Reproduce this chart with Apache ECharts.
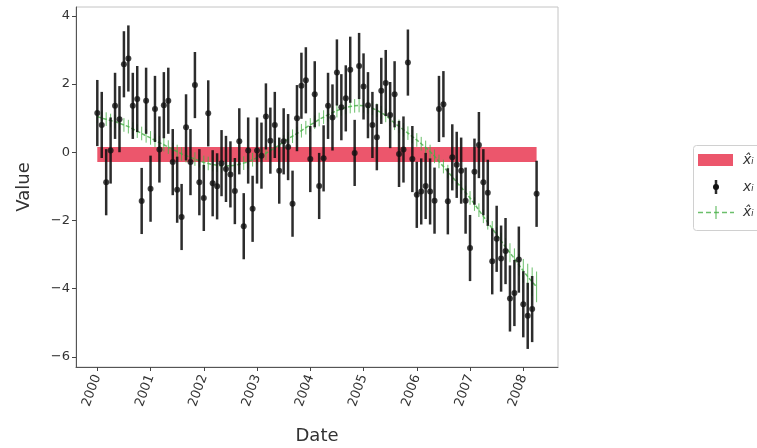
<!DOCTYPE html>
<html>
<head>
<meta charset="utf-8">
<script src="https://cdn.jsdelivr.net/npm/echarts@6/dist/echarts.min.js"></script>
<style>html,body{margin:0;padding:0;background:#fff;overflow:hidden}#c{width:757px;height:448px}</style>
</head>
<body>
<div id="c"></div>
<script>
// ---- data ----
const startYear = 2000;
const yearTicks = [2000, 2001, 2002, 2003, 2004, 2005, 2006, 2007, 2008];
const valueTicks = [-6, -4, -2, 0, 2, 4];
// observations x_i (monthly, 2000-01 .. 2008-04)
const observed = [
  1.15, 0.8, -0.88, 0.05, 1.36, 0.97, 2.58, 2.75, 1.36, 1.56,
  -1.43, 1.51, -1.07, 1.27, 0.08, 1.38, 1.51, -0.29, -1.1, -1.9,
  0.73, -0.29, 1.97, -0.88, -1.34, 1.14, -0.91, -1.0, -0.32, -0.49,
  -0.65, -1.14, 0.32, -2.17, 0.05, -1.66, 0.05, -0.1, 1.05, 0.34,
  0.8, -0.54, 0.32, 0.15, -1.51, 1.0, 1.95, 2.11, -0.2, 1.7,
  -0.99, -0.18, 1.36, 1.02, 2.34, 1.32, 1.58, 2.42, -0.02, 2.53,
  1.93, 1.38, 0.8, 0.44, 1.8, 2.03, 1.09, 1.7, -0.05, 0.08,
  2.63, -0.2, -1.25, -1.15, -0.99, -1.15, -1.42, 1.27, 1.41, -1.44,
  -0.15, -0.37, -0.54, -1.42, -2.81, -0.57, 0.21, -0.88, -1.19, -3.2,
  -2.54, -3.12, -2.9, -4.29, -4.13, -3.15, -4.46, -4.8, -4.6, -1.22
];
const observedErr = 0.97;
// estimates x̂_i
const estimate = [
  1.05, 1.0, 0.97, 0.93, 0.9, 0.85, 0.8, 0.75, 0.68, 0.62,
  0.55, 0.48, 0.42, 0.35, 0.28, 0.22, 0.15, 0.08, 0.02, -0.05,
  -0.1, -0.15, -0.2, -0.25, -0.3, -0.33, -0.36, -0.38, -0.4, -0.4,
  -0.4, -0.38, -0.35, -0.32, -0.28, -0.22, -0.16, -0.1, -0.03, 0.05,
  0.13, 0.21, 0.3, 0.39, 0.47, 0.55, 0.63, 0.72, 0.8, 0.88,
  0.96, 1.03, 1.1, 1.16, 1.22, 1.27, 1.31, 1.34, 1.36, 1.37,
  1.36, 1.33, 1.29, 1.23, 1.16, 1.08, 0.97, 0.85, 0.76, 0.66,
  0.56, 0.46, 0.36, 0.25, 0.14, 0.02, -0.12, -0.27, -0.42, -0.57,
  -0.72, -0.88, -1.03, -1.18, -1.34, -1.52, -1.7, -1.88, -2.06, -2.24,
  -2.42, -2.6, -2.78, -2.95, -3.12, -3.3, -3.48, -3.65, -3.8, -3.95
];
const estimateErr = [
  0.2, 0.2, 0.2, 0.2, 0.2, 0.2, 0.2, 0.2, 0.2, 0.2,
  0.2, 0.2, 0.2, 0.2, 0.2, 0.2, 0.2, 0.2, 0.2, 0.2,
  0.2, 0.2, 0.2, 0.2, 0.2, 0.2, 0.2, 0.2, 0.2, 0.2,
  0.2, 0.2, 0.2, 0.2, 0.2, 0.2, 0.2, 0.2, 0.2, 0.2,
  0.2, 0.2, 0.2, 0.2, 0.2, 0.2, 0.2, 0.2, 0.2, 0.2,
  0.2, 0.2, 0.2, 0.2, 0.2, 0.2, 0.2, 0.2, 0.2, 0.2,
  0.2, 0.2, 0.2, 0.2, 0.2, 0.2, 0.2, 0.2, 0.2, 0.2,
  0.2, 0.2, 0.2, 0.2, 0.2, 0.2, 0.2, 0.2, 0.2, 0.2,
  0.2, 0.2, 0.2, 0.2, 0.2, 0.2, 0.2, 0.2, 0.21, 0.22,
  0.23, 0.24, 0.26, 0.28, 0.3, 0.32, 0.35, 0.38, 0.42, 0.45
];
// mean band x̄ (lower / upper)
const bandLow = [-0.29];
const bandHigh = [0.15];
const legendLabels = ['x\u0302\u1D62', 'x\u1D62', 'x\u0302\u1D62'];

// ---- build ----
const dates = observed.map((_, i) => startYear + i / 12);
const obsPts = observed.map((v, i) => [dates[i], v]);
const obsBars = observed.map((v, i) => [dates[i], v - observedErr, v + observedErr]);
const estPts = estimate.map((v, i) => [dates[i], v]);
const estBars = estimate.map((v, i) => [dates[i], v - estimateErr[i], v + estimateErr[i]]);
const bandData = [[dates[0], dates[dates.length - 1], bandLow[0], bandHigh[0]]];

const RED = '#ec566c';
const GREEN = 'rgba(70,175,70,0.8)';
const BLACK = 'rgba(15,15,15,0.88)';

function errRender(color, width) {
  return function (params, api) {
    const p1 = api.coord([api.value(0), api.value(2)]);
    const p2 = api.coord([api.value(0), api.value(1)]);
    return {type: 'line', shape: {x1: p1[0], y1: p1[1], x2: p2[0], y2: p2[1]},
      style: {stroke: color, lineWidth: width}};
  };
}

const chart = echarts.init(document.getElementById('c'), null, {renderer: 'canvas'});
const font = 'DejaVu Sans';
chart.setOption({
  animation: false,
  backgroundColor: '#fff',
  grid: {left: 76, top: 7, right: 199, bottom: 81, show: true, borderColor: '#c4c4c4', borderWidth: 1,
    containLabel: false, outerBoundsMode: 'none'},
  xAxis: {
    type: 'value', min: 1999.6, max: 2008.652,
    name: 'Date', nameLocation: 'middle', nameGap: 60,
    nameTextStyle: {fontFamily: font, fontSize: 18, color: '#333'},
    axisLine: {onZero: false, lineStyle: {color: '#555', width: 1}},
    axisTick: {customValues: yearTicks, length: 4, lineStyle: {color: '#444'}},
    axisLabel: {customValues: yearTicks, rotate: 70, fontFamily: font, fontSize: 13, color: '#333', margin: 8,
      formatter: v => String(Math.round(v))},
    splitLine: {show: false}
  },
  yAxis: {
    type: 'value', min: -6.3, max: 4.26,
    name: 'Value', nameLocation: 'middle', nameGap: 43,
    nameTextStyle: {fontFamily: font, fontSize: 18, color: '#333'},
    axisLine: {show: true, lineStyle: {color: '#555', width: 1}},
    axisTick: {show: true, customValues: valueTicks, length: 4, lineStyle: {color: '#444'}},
    axisLabel: {customValues: valueTicks, fontFamily: font, fontSize: 13, color: '#333', margin: 6,
      formatter: v => String(v).replace('-', '\u2212')},
    splitLine: {show: false}
  },
  series: [
    {
      type: 'custom', name: 'band', z: 1, data: bandData,
      renderItem: function (params, api) {
        const a = api.coord([api.value(0), api.value(3)]);
        const b = api.coord([api.value(1), api.value(2)]);
        return {type: 'rect', shape: {x: a[0], y: a[1], width: b[0] - a[0], height: b[1] - a[1]},
          style: {fill: RED}};
      }
    },
    {type: 'line', name: 'estimate', z: 2, data: estPts, symbol: 'none',
      lineStyle: {color: GREEN, width: 1.5, type: [4, 2]}},
    {type: 'custom', name: 'estimateErr', z: 2, data: estBars, renderItem: errRender(GREEN, 1)},
    {type: 'custom', name: 'observedErr', z: 3, data: obsBars, renderItem: errRender(BLACK, 2.5)},
    {type: 'scatter', name: 'observed', z: 4, data: obsPts, symbol: 'circle', symbolSize: 6,
      itemStyle: {color: '#111'}}
  ],
  graphic: [
    {type: 'rect', left: 693, top: 145, shape: {width: 90, height: 85, r: 3},
      style: {fill: '#fff', stroke: '#d0d0d0', lineWidth: 1}, z: 10},
    {type: 'rect', shape: {x: 698, y: 154, width: 35, height: 12}, style: {fill: RED}, z: 11},
    {type: 'line', shape: {x1: 716, y1: 180, x2: 716, y2: 194}, style: {stroke: BLACK, lineWidth: 2.5}, z: 11},
    {type: 'circle', shape: {cx: 716, cy: 187, r: 3}, style: {fill: '#111'}, z: 11},
    {type: 'line', shape: {x1: 698, y1: 212.5, x2: 734, y2: 212.5}, style: {stroke: GREEN, lineWidth: 1.5, lineDash: [5, 3]}, z: 11},
    {type: 'line', shape: {x1: 716, y1: 206, x2: 716, y2: 219}, style: {stroke: GREEN, lineWidth: 1.2}, z: 11},
    {type: 'text', x: 743, y: 160, style: {text: legendLabels[0], fontFamily: font, fontStyle: 'italic', fontSize: 14, fill: '#333', verticalAlign: 'middle'}, z: 11},
    {type: 'text', x: 743, y: 187, style: {text: legendLabels[1], fontFamily: font, fontStyle: 'italic', fontSize: 14, fill: '#333', verticalAlign: 'middle'}, z: 11},
    {type: 'text', x: 743, y: 212, style: {text: legendLabels[2], fontFamily: font, fontStyle: 'italic', fontSize: 14, fill: '#333', verticalAlign: 'middle'}, z: 11}
  ]
});
</script>
</body>
</html>
